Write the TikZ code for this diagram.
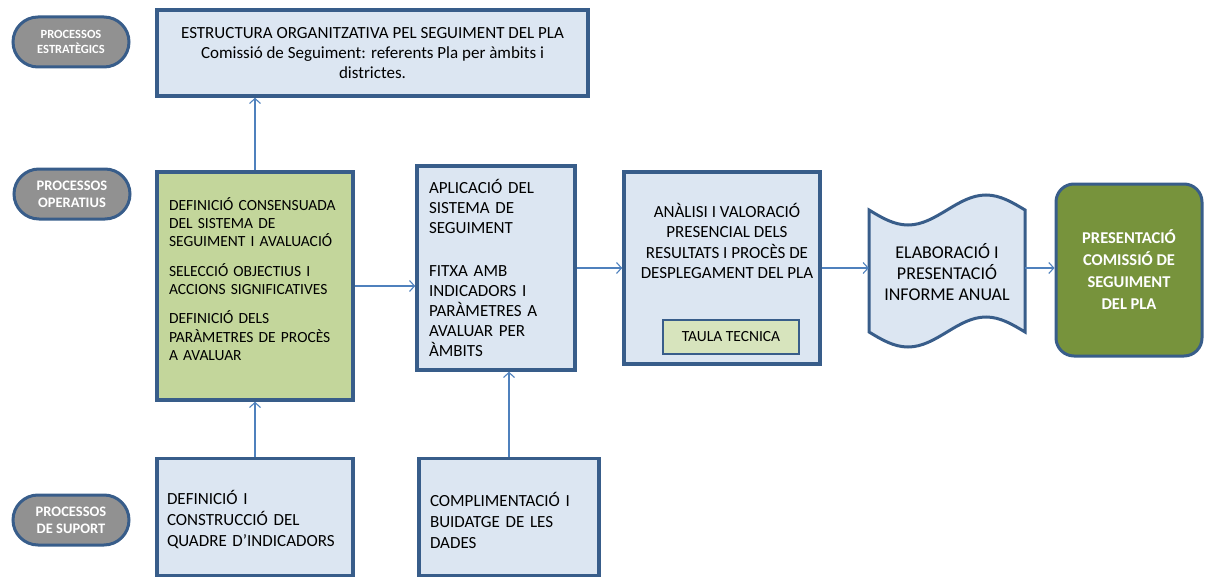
\documentclass[tikz,border=0pt]{standalone}
\usepackage{fontspec}
\setmainfont{Carlito}
\usetikzlibrary{arrows.meta,shapes.misc}
\definecolor{bfill}{RGB}{220,230,242}
\definecolor{bdraw}{RGB}{56,93,138}
\definecolor{gfill}{RGB}{195,214,155}
\definecolor{tfill}{RGB}{215,228,189}
\definecolor{dgreen}{RGB}{119,147,60}
\definecolor{pgray}{RGB}{145,145,145}
\definecolor{arr}{RGB}{79,129,189}
\tikzset{
  box/.style={draw=bdraw, line width=3.5pt, fill=bfill, inner sep=0pt,
    font=\fontsize{17}{20}\selectfont},
  gbox/.style={box, fill=gfill},
  pill/.style={rounded rectangle, draw=bdraw, line width=3pt, fill=pgray, text=white,
    font=\bfseries\fontsize{14.5}{17}\selectfont, align=center, inner sep=0pt,
    minimum width=116, minimum height=50},
  arrowst/.style={draw=arr, line width=1.1pt, -{Straight Barb[length=5pt,width=11pt]}},
}
\begin{document}
\begin{tikzpicture}[x=1pt,y=-1pt]
\useasboundingbox (0,0) rectangle (1213,578);
% pills
\node[pill, font=\bfseries\fontsize{12.5}{15}\selectfont] (p1) at (71,42) {PROCESSOS\\ESTRATÈGICS};
\node[pill] (p2) at (72,194) {PROCESSOS\\OPERATIUS};
\node[pill] (p3) at (71,520) {PROCESSOS\\DE SUPORT};
% top box
\node[box, minimum width=431, minimum height=86, align=center] (estr) at (372.5,53)
 {ESTRUCTURA ORGANITZATIVA PEL SEGUIMENT DEL PLA\\Comissió de Seguiment: referents Pla per àmbits i\\districtes.};
% green box
\node[gbox, minimum width=196, minimum height=228] (green) at (255,286) {};
\node[text width=172, align=left, inner sep=0pt, font=\fontsize{15.5}{18.3}\selectfont] (greentext) at (255,279)
 {DEFINICIÓ CONSENSUADA\\DEL SISTEMA DE\\SEGUIMENT I AVALUACIÓ\\[11pt]SELECCIÓ OBJECTIUS I\\ACCIONS SIGNIFICATIVES\\[11pt]DEFINICIÓ DELS\\PARÀMETRES DE PROCÈS\\A AVALUAR};
% aplicacio
\node[box, minimum width=158, minimum height=204, text width=134, align=left] (aplic) at (496,268)
 {APLICACIÓ DEL\\SISTEMA DE\\SEGUIMENT\\[23pt]FITXA AMB\\INDICADORS I\\PARÀMETRES A\\AVALUAR PER\\ÀMBITS};
% analisi
\node[box, minimum width=196, minimum height=192] (analisi) at (722,268) {};
\node[align=center, font=\fontsize{17}{20.5}\selectfont, inner sep=0pt] (antext) at (727,241)
 {ANÀLISI I VALORACIÓ\\PRESENCIAL DELS\\RESULTATS I PROCÈS DE\\DESPLEGAMENT DEL PLA};
\node[draw=bdraw, line width=1.5pt, fill=tfill, minimum width=136, minimum height=34, inner sep=0pt,
  font=\fontsize{15.5}{18}\selectfont] (taula) at (731,337) {TAULA TECNICA};
% document shape
\draw[draw=bdraw, line width=3pt, fill=bfill]
  (869,210) sin (908,225) cos (947,210) sin (986,195) cos (1025,210)
  -- (1025,332) sin (986,317) cos (947,332) sin (908,347) cos (869,332) -- cycle;
\node[minimum width=156, minimum height=120, inner sep=0pt] (doc) at (947,268) {};
\node[align=center, inner sep=0pt, font=\fontsize{18}{21}\selectfont] (doctext) at (947,272)
 {ELABORACIÓ I\\PRESENTACIÓ\\INFORME ANUAL};
% final
\node[draw=bdraw, line width=3pt, fill=dgreen, rounded corners=18pt, minimum width=146, minimum height=172,
  text=white, align=center, inner sep=0pt, font=\bfseries\fontsize{16.5}{22}\selectfont] (final) at (1129,270)
 {PRESENTACIÓ\\COMISSIÓ DE\\SEGUIMENT\\DEL PLA};
% bottom boxes
\node[box, minimum width=196, minimum height=117] (defi) at (255,517) {};
\node[text width=176, align=left, inner sep=0pt, font=\fontsize{17}{21}\selectfont] (defitext) at (255,520)
 {DEFINICIÓ I\\CONSTRUCCIÓ DEL\\QUADRE D’INDICADORS};
\node[box, minimum width=180, minimum height=117] (compl) at (509,517) {};
\node[text width=158, align=left, inner sep=0pt, font=\fontsize{17}{21}\selectfont] (compltext) at (509,520)
 {COMPLIMENTACIÓ I\\BUIDATGE DE LES\\DADES};
% arrows
\draw[arrowst] (green.north) -- (green.north |- estr.south);
\draw[arrowst] (green.east) -- (green.east -| aplic.west);
\draw[arrowst] (aplic.east) -- (analisi.west);
\draw[arrowst] (analisi.east) -- (doc.west);
\draw[arrowst] (doc.east) -- (doc.east -| final.west);
\draw[arrowst] (defi.north) -- (green.south);
\draw[arrowst] (compl.north) -- (compl.north |- aplic.south);
\end{tikzpicture}
\end{document}
